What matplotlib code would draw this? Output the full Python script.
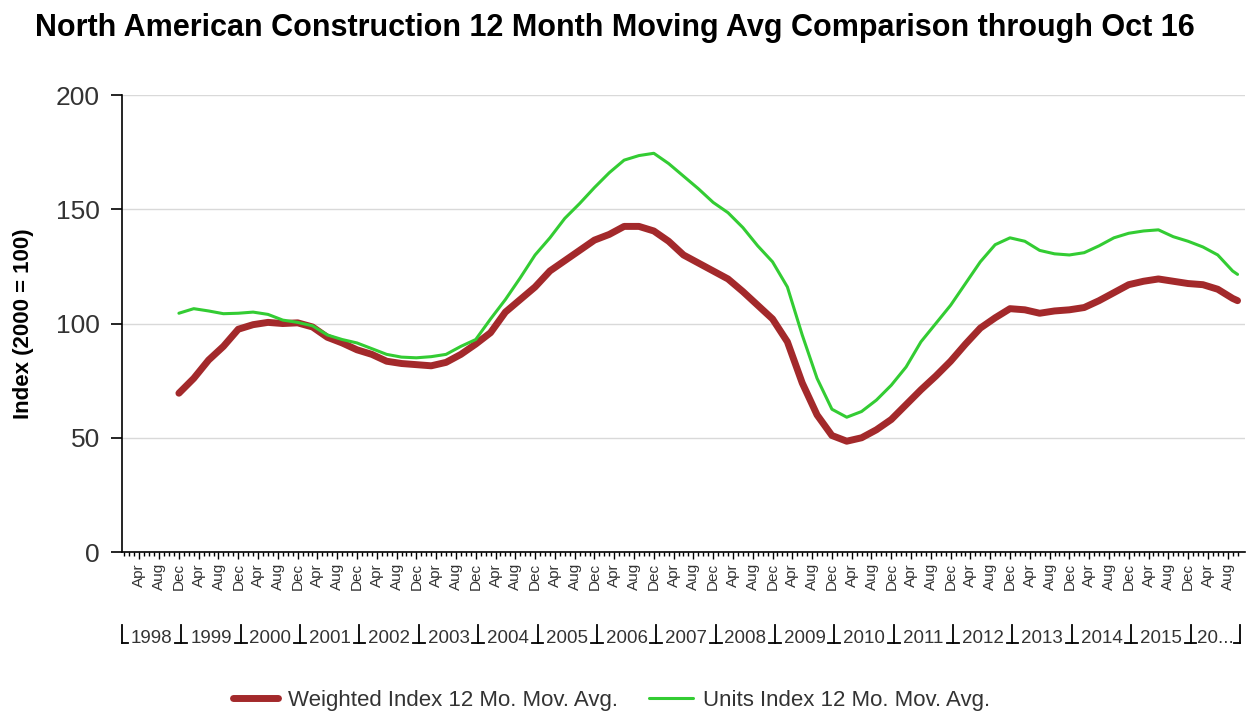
import matplotlib.pyplot as plt
import matplotlib.transforms as mtransforms
import pandas as pd

# quarterly readings, Dec 1998 .. Sep 2016, plus the last month Oct 2016
dates = list(pd.date_range("1998-12-01", "2016-09-01", freq="3MS")) + [pd.Timestamp("2016-10-01")]

weighted = [69.5,
            76, 84, 90, 97.5,
            99.5, 100.5, 100, 100.3,
            98.5, 94, 91.5, 88.5,
            86.5, 83.5, 82.5, 82,
            81.5, 83, 86.5, 91,
            96, 105, 110.5, 116,
            123, 127.5, 132, 136.5,
            139, 142.5, 142.5, 140.5,
            136, 130, 126.5, 123,
            119.5, 114, 108, 102,
            92, 74, 60, 51,
            48.5, 50, 53.5, 58,
            64.5, 71, 77, 83.5,
            91, 98, 102.5, 106.5,
            106, 104.5, 105.5, 106,
            107, 110, 113.5, 117,
            118.5, 119.5, 118.5, 117.5,
            117, 115, 111, 110]

units = [104.5,
         106.5, 105.5, 104.3, 104.5,
         105, 104, 101.5, 100.5,
         99, 95, 93, 91.5,
         89, 86.5, 85.3, 85,
         85.5, 86.5, 90, 93,
         102, 110.5, 120, 130,
         137.5, 146, 152.5, 159.5,
         166, 171.5, 173.5, 174.5,
         170, 164.5, 159, 153,
         148.5, 142, 134, 127,
         116, 95, 76, 62.5,
         59, 61.5, 66.5, 73,
         81, 92, 100, 108,
         117.5, 127, 134.5, 137.5,
         136, 132, 130.5, 130,
         131, 134, 137.5, 139.5,
         140.5, 141, 138, 136,
         133.5, 130, 123, 121.5]

years = ["1998", "1999", "2000", "2001", "2002", "2003", "2004", "2005", "2006",
         "2007", "2008", "2009", "2010", "2011", "2012", "2013", "2014", "2015", "20..."]
month_labels = ["Apr", "Aug", "Dec"]

plt.rcParams["font.family"] = ["Liberation Sans", "DejaVu Sans"]

# month index counted from Jan 1998
x = [(d.year - 1998) * 12 + d.month - 1 for d in dates]
n_months = (2016 - 1998) * 12 + 10

fig = plt.figure(figsize=(12.54, 7.16), dpi=100)
ax = fig.add_axes([0.0973, 0.229, 0.8955, 0.6383])

ax.plot(x, weighted, color="#a3292b", lw=5, solid_capstyle="round", label="Weighted Index 12 Mo. Mov. Avg.", zorder=3)
ax.plot(x, units, color="#33cc33", lw=2.2, solid_capstyle="round", label="Units Index 12 Mo. Mov. Avg.", zorder=4)

ax.set_ylim(0, 200)
ax.set_yticks([0, 50, 100, 150, 200])
ax.set_xlim(-0.5, n_months + 0.5)
ax.grid(axis="y", color="#d9d9d9", lw=1)
ax.set_axisbelow(True)
for s in ["top", "right"]:
    ax.spines[s].set_visible(False)
ax.spines["left"].set_linewidth(1.2)
ax.spines["bottom"].set_linewidth(1.2)
ax.tick_params(axis="y", labelsize=19, length=8, width=1.2, pad=8, labelcolor="#333333")

# month ticks, labels on Apr / Aug / Dec
major = [i for i in range(n_months) if i % 12 in (3, 7, 11)]
ax.set_xticks(major)
ax.set_xticklabels([month_labels[(i % 12) // 4] for i in major], rotation=90, fontsize=11, color="#333333")
ax.set_xticks(range(n_months), minor=True)
ax.tick_params(axis="x", which="major", length=5, width=1, pad=3)
ax.tick_params(axis="x", which="minor", length=3, width=1)

# year row with bracket separators
trans = mtransforms.blended_transform_factory(ax.transData, ax.transAxes)
edges = [12 * k - 0.5 for k in range(len(years))] + [n_months - 0.5]
for k, lab in enumerate(years):
    mid = (edges[k] + edges[k + 1]) / 2
    ax.text(mid, -0.19, lab, transform=trans, ha="center", va="center", fontsize=13.5, color="#333333")
for k, e in enumerate(edges):
    ax.plot([e, e], [-0.16, -0.2], transform=trans, color="black", lw=1.3, clip_on=False)
    left = 0 if k == 0 else 1.2
    right = 0 if k == len(edges) - 1 else 1.2
    ax.plot([e - left, e + right], [-0.2, -0.2], transform=trans, color="black", lw=1.3, clip_on=False)

ax.set_ylabel("Index (2000 = 100)", fontsize=16, fontweight="bold", labelpad=16)
fig.suptitle("North American Construction 12 Month Moving Avg Comparison through Oct 16",
             x=0.49, y=0.982, fontsize=22, fontweight="bold")

fig.legend(loc="center", bbox_to_anchor=(0.488, 0.022), ncol=2, frameon=False,
           fontsize=16, handlelength=2.0, handletextpad=0.45, columnspacing=1.4, labelcolor="#333333")

fig.savefig("out.png", dpi=100)
